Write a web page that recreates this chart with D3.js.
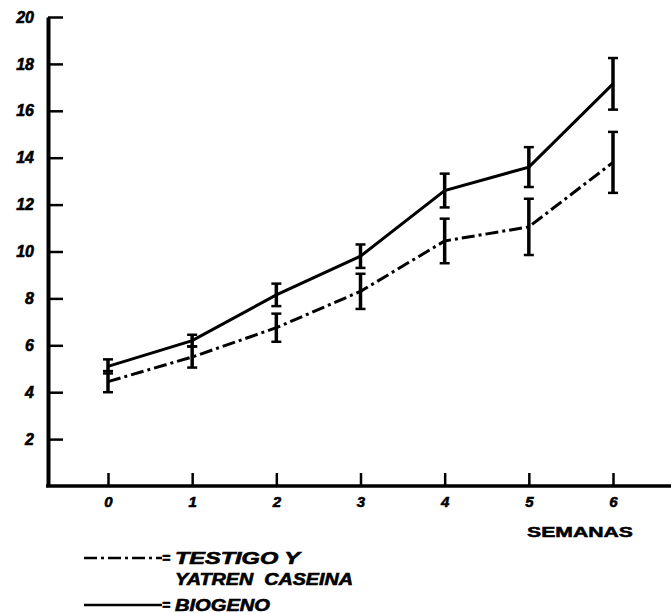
<!DOCTYPE html>
<html>
<head>
<meta charset="utf-8">
<script src="https://cdn.jsdelivr.net/npm/d3@7"></script>
<style>
  body { margin: 0; background: #fff; }
  svg { display: block; }
  .lbl { font-family: "Liberation Sans", Arial, sans-serif; font-weight: bold; font-style: italic; fill: #000; stroke: #000; stroke-width: 0.6; white-space: pre; }
</style>
</head>
<body>
<div id="d3"></div>
<script>
// semanas y valores
const weeks = [0, 1, 2, 3, 4, 5, 6]
const biogeno = [5.1, 6.2, 8.15, 9.8, 12.6, 13.6, 17.15]
const biogenoErr = [0.3, 0.25, 0.48, 0.5, 0.72, 0.85, 1.1]
const testigo = [4.45, 5.5, 6.75, 8.3, 10.45, 11.05, 13.8]
const testigoErr = [0.45, 0.45, 0.6, 0.75, 0.95, 1.2, 1.3]
const yTicks = [2, 4, 6, 8, 10, 12, 14, 16, 18, 20]
const legendLabels = [["TESTIGO Y", "YATREN  CASEINA"], ["BIOGENO"]]
const legendWidths = [[125, 178], [95]]
const xTitle = "SEMANAS"

const W = 671, H = 613
const svg = d3.select("#d3").append("svg")
    .attr("width", W)
    .attr("height", H)

const x = d3.scaleLinear().domain([0, 6]).range([108, 613])
const y = d3.scaleLinear().domain([0, 20]).range([486, 17])
const axisX = 48

// eje Y con marcas hacia dentro
const gy = svg.append("g")
    .attr("transform", "translate(" + axisX + ",0)")
    .call(d3.axisLeft(y).tickValues(yTicks).tickSize(-15).tickSizeOuter(0).tickPadding(14))
gy.select(".domain").attr("stroke-width", 4)
gy.selectAll(".tick line").attr("stroke-width", 2.5)
gy.selectAll("text")
    .attr("class", "lbl")
    .style("font-size", "16px")
    .attr("font-family", null)

// eje X
const gx = svg.append("g")
    .attr("transform", "translate(0," + y(0) + ")")
    .call(d3.axisBottom(x).tickValues(weeks).tickSize(-13).tickPadding(10).tickFormat(d3.format("d")))
gx.select(".domain").remove()
gx.selectAll(".tick line").attr("stroke-width", 2.5)
gx.selectAll("text")
    .attr("class", "lbl")
    .style("font-size", "15px")
    .attr("font-family", null)
svg.append("line")
    .attr("x1", axisX - 2).attr("x2", W)
    .attr("y1", y(0)).attr("y2", y(0))
    .attr("stroke", "#000").attr("stroke-width", 3.5)

svg.append("text")
    .attr("x", 527).attr("y", 537)
    .attr("textLength", 106)
    .attr("lengthAdjust", "spacingAndGlyphs")
    .style("font-family", "Liberation Sans, Arial, sans-serif")
    .style("font-weight", "bold")
    .style("font-size", "15px")
    .style("stroke", "#000").style("stroke-width", 0.5)
    .text(xTitle)

const dashStyle = "13,4,3,4"
const series = [
    {values: testigo, err: testigoErr, dash: dashStyle},
    {values: biogeno, err: biogenoErr, dash: null}
]

const line = d3.line().x((d, i) => x(weeks[i])).y(d => y(d))

series.forEach(s => {
    svg.append("path")
        .datum(s.values)
        .attr("fill", "none")
        .attr("stroke", "#000")
        .attr("stroke-width", 3)
        .attr("stroke-dasharray", s.dash)
        .attr("d", line)

    const bars = svg.append("g").selectAll("g")
        .data(s.values)
        .enter()
        .append("g")
    bars.append("line")
        .attr("x1", (d, i) => x(weeks[i])).attr("x2", (d, i) => x(weeks[i]))
        .attr("y1", (d, i) => y(d + s.err[i])).attr("y2", (d, i) => y(d - s.err[i]))
        .attr("stroke", "#000").attr("stroke-width", 3.5)
    bars.append("line")
        .attr("x1", (d, i) => x(weeks[i]) - 5).attr("x2", (d, i) => x(weeks[i]) + 5)
        .attr("y1", (d, i) => y(d + s.err[i])).attr("y2", (d, i) => y(d + s.err[i]))
        .attr("stroke", "#000").attr("stroke-width", 2.5)
    bars.append("line")
        .attr("x1", (d, i) => x(weeks[i]) - 5).attr("x2", (d, i) => x(weeks[i]) + 5)
        .attr("y1", (d, i) => y(d - s.err[i])).attr("y2", (d, i) => y(d - s.err[i]))
        .attr("stroke", "#000").attr("stroke-width", 2.5)
})

// leyenda
const legend = svg.append("g")
const legendY = [558, 605]
series.forEach((s, k) => {
    legend.append("line")
        .attr("x1", 84).attr("x2", 162)
        .attr("y1", legendY[k]).attr("y2", legendY[k])
        .attr("stroke", "#000").attr("stroke-width", 2.5)
        .attr("stroke-dasharray", s.dash)
    legend.append("text")
        .attr("class", "lbl")
        .attr("x", 162)
        .attr("y", legendY[k] + 5)
        .style("font-size", "14px")
        .text("=")
    legendLabels[k].forEach((t, j) => {
        legend.append("text")
            .attr("class", "lbl")
            .attr("x", 175)
            .attr("y", legendY[k] + 6 + j * 21)
            .attr("textLength", legendWidths[k][j])
            .attr("lengthAdjust", "spacingAndGlyphs")
            .style("font-size", "16px")
            .text(t)
    })
})
</script>
</body>
</html>
